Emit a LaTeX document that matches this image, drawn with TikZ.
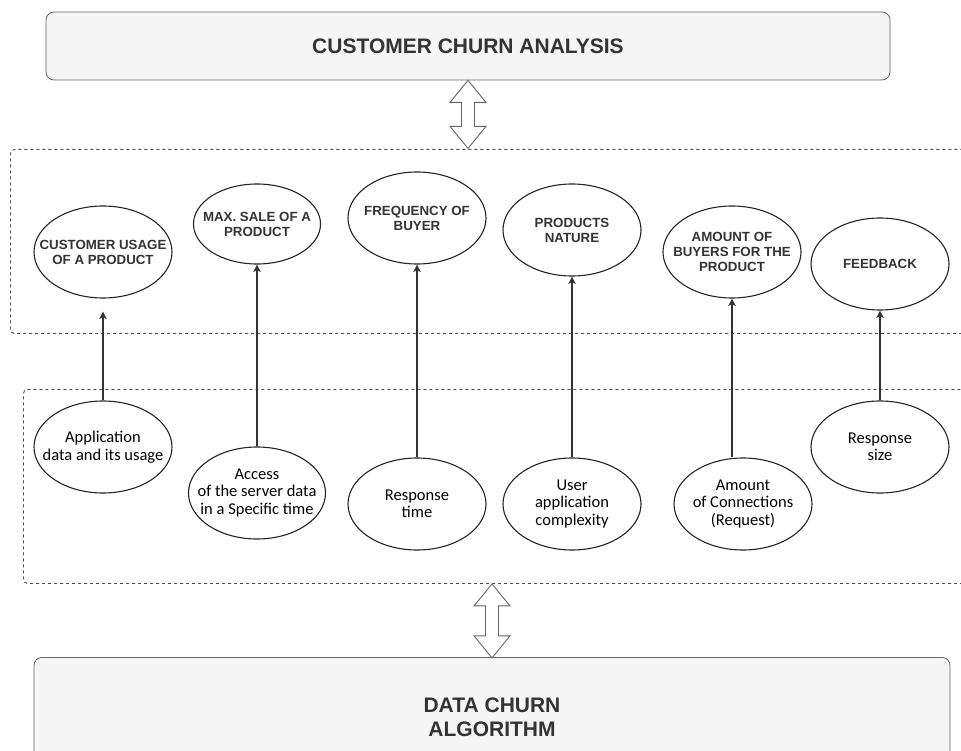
\documentclass[tikz,border=0pt]{standalone}
\usepackage{fontspec}
\setmainfont{Liberation Sans}
\newfontfamily\calfont{Carlito}
\usetikzlibrary{shapes.geometric,arrows.meta,calc}

\definecolor{boxfill}{HTML}{F5F5F5}
\definecolor{boxline}{HTML}{666666}
\definecolor{inkgray}{HTML}{333333}
\definecolor{dashgray}{HTML}{4D4D4D}

\tikzset{
  mainbox/.style={draw=boxline, fill=boxfill, rounded corners=8pt, line width=0.8pt,
    align=center, text=inkgray, font=\fontsize{21}{24}\selectfont\bfseries},
  region/.style={draw=dashgray, dash pattern=on 3pt off 3pt, rounded corners=4pt,
    line width=0.9pt, inner sep=0pt},
  ell/.style={ellipse, draw=inkgray!70!black, line width=1.1pt, inner sep=0pt,
    minimum width=138pt, minimum height=92pt},
  captxt/.style={align=center, text=inkgray, font=\fontsize{13.3}{15}\selectfont\bfseries},
  lowtxt/.style={align=center, text=black, font=\calfont\fontsize{16.5}{17.5}\selectfont},
  link/.style={-{Stealth[length=7.5pt,width=7.5pt,inset=2pt]}, draw=inkgray, line width=1.1pt},
  % hollow two-way arrow, #1 = tip-to-tip length
  pics/twoway/.style={code={
    \draw[draw=boxline, fill=white, line width=0.9pt, line join=miter]
      (0,0) -- (18,22) -- (6.5,22) -- (6.5,{#1-22}) -- (18,{#1-22}) -- (0,#1)
      -- (-18,{#1-22}) -- (-6.5,{#1-22}) -- (-6.5,22) -- (-18,22) -- cycle;
  }},
}

\begin{document}
\begin{tikzpicture}[x=1pt, y=-1pt]
\useasboundingbox (0,0) rectangle (961,751);

% --- outer blocks ---
\node[mainbox, minimum width=844pt, minimum height=68pt] (analysis) at (468,46) {CUSTOMER CHURN ANALYSIS};
\node[mainbox, minimum width=916pt, minimum height=120pt, anchor=north] (algorithm) at (492,657) {DATA CHURN\\ALGORITHM};

% --- dashed layers (open to the right) ---
\node[region, anchor=north west, minimum width=975pt, minimum height=184pt] (upper) at (10,149) {};
\node[region, anchor=north west, minimum width=965pt, minimum height=194pt] (lower) at (23,389) {};

% --- two-way arrows between blocks and layers ---
\pic at (analysis.south) {twoway=68};
\pic at (algorithm.north |- lower.south) {twoway=74};

% --- analysis factors ---
\node[ell, label={[captxt]center:{CUSTOMER USAGE\\OF A PRODUCT}}] (usage) at (103,252) {};
\node[ell, minimum width=127pt, minimum height=80pt, label={[captxt]center:{MAX. SALE OF A\\PRODUCT}}] (maxsale) at (257,224) {};
\node[ell, label={[captxt]center:{FREQUENCY OF\\BUYER}}] (freq) at (417,218) {};
\node[ell, label={[captxt]center:{PRODUCTS\\NATURE}}] (nature) at (572,230) {};
\node[ell, label={[captxt]center:{AMOUNT OF\\BUYERS FOR THE\\PRODUCT}}] (buyers) at (732,252) {};
\node[ell, label={[captxt]center:{FEEDBACK}}] (feedback) at (880,264) {};

% --- data measures ---
\node[ell, label={[lowtxt]center:{Application\\data and its usage}}] (appdata) at (103,447) {};
\node[ell, minimum width=137pt, label={[lowtxt]center:{Access\\of the server data\\in a Specific time}}] (access) at (257,493) {};
\node[ell, label={[lowtxt]center:{Response\\time}}] (resptime) at (417,504) {};
\node[ell, label={[lowtxt]center:{User\\application\\complexity}}] (complexity) at (572,504) {};
\node[ell, label={[lowtxt]center:{Amount\\of Connections\\(Request)}}] (connections) at (743,504) {};
\node[ell, label={[lowtxt]center:{Response\\size}}] (respsize) at (880,447) {};

% --- links ---
\draw[link, shorten >=13pt] (appdata) -- (usage);
\draw[link] (access) -- (maxsale);
\draw[link] (resptime) -- (freq);
\draw[link] (complexity) -- (nature);
\draw[link] (connections.north -| buyers) -- (buyers.south);
\draw[link] (respsize) -- (feedback);

\end{tikzpicture}
\end{document}
